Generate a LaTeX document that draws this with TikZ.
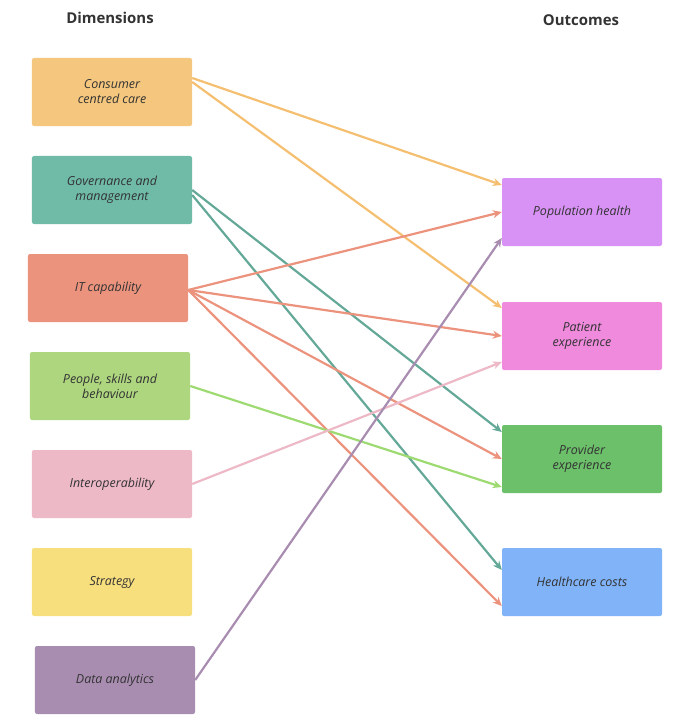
\documentclass[tikz,border=0pt]{standalone}
\usepackage{fontspec}
\setmainfont{Open Sans}
\usetikzlibrary{arrows.meta}
\definecolor{cCons}{HTML}{F4C67E}
\definecolor{cGov}{HTML}{6FBBA8}
\definecolor{cIT}{HTML}{EC937E}
\definecolor{cPeop}{HTML}{AED67F}
\definecolor{cInter}{HTML}{EDB9C7}
\definecolor{cStrat}{HTML}{F8DF7E}
\definecolor{cData}{HTML}{A98DB1}
\definecolor{cPop}{HTML}{D892F5}
\definecolor{cPat}{HTML}{EF8ADD}
\definecolor{cProv}{HTML}{6CC06A}
\definecolor{cCost}{HTML}{80B3F7}
\definecolor{cText}{HTML}{333333}
\begin{document}
\begin{tikzpicture}[x=1bp,y=-1bp]
	\useasboundingbox (0,0) rectangle (688,726);
	\begin{scope}
		[
			styleBox/.style={fill=#1, rounded corners=2bp, minimum width=160bp,
				minimum height=68bp, align=center, text=cText,
				font=\fontsize{12.5}{15}\selectfont\itshape, inner sep=2bp},
			styleHead/.style={text=cText, font=\fontsize{15}{18}\selectfont\bfseries},
		]
		\node(hDim)[styleHead] at (110,18) {Dimensions};
		\node(hOut)[styleHead] at (581,20) {Outcomes};

		\node(cons)[styleBox=cCons] at (112,92) {Consumer\\centred care};
		\node(gov)[styleBox=cGov] at (112,190) {Governance and\\management};
		\node(it)[styleBox=cIT] at (108,288) {IT capability};
		\node(peop)[styleBox=cPeop] at (110,386) {People, skills and\\behaviour};
		\node(inter)[styleBox=cInter] at (112,484) {Interoperability};
		\node(strat)[styleBox=cStrat] at (112,582) {Strategy};
		\node(data)[styleBox=cData] at (115,680) {Data analytics};

		\node(pop)[styleBox=cPop] at (582,212) {Population health};
		\node(pat)[styleBox=cPat] at (582,336) {Patient\\experience};
		\node(prov)[styleBox=cProv] at (582,459) {Provider\\experience};
		\node(cost)[styleBox=cCost] at (582,582) {Healthcare costs};
	\end{scope}

	\begin{scope}
		[ link/.style = {draw=#1, line width=2.2bp, -{Stealth[length=9bp,width=8bp]}} ]
		\draw[link=cCons!90!orange] ([yshift=14bp]cons.east) -- ([yshift=27bp]pop.west);
		\draw[link=cCons!90!orange] ([yshift=10bp]cons.east) -- ([yshift=28bp]pat.west);
		\draw[link=cGov!90!black] (gov.east) -- ([yshift=27bp]prov.west);
		\draw[link=cGov!90!black] ([yshift=-5bp]gov.east) -- ([yshift=12bp]cost.west);
		\draw[link=cIT] ([yshift=-2bp]it.east) -- (pop.west);
		\draw[link=cIT] ([yshift=-2bp]it.east) -- (pat.west);
		\draw[link=cIT] ([yshift=-2bp]it.east) -- (prov.west);
		\draw[link=cIT] ([yshift=-2bp]it.east) -- ([yshift=-24bp]cost.west);
		\draw[link=cPeop!90!green] (peop.east) -- ([yshift=-28bp]prov.west);
		\draw[link=cInter] (inter.east) -- ([yshift=-26bp]pat.west);
		\draw[link=cData] (data.east) -- ([yshift=-26bp]pop.west);
	\end{scope}
\end{tikzpicture}
\end{document}
